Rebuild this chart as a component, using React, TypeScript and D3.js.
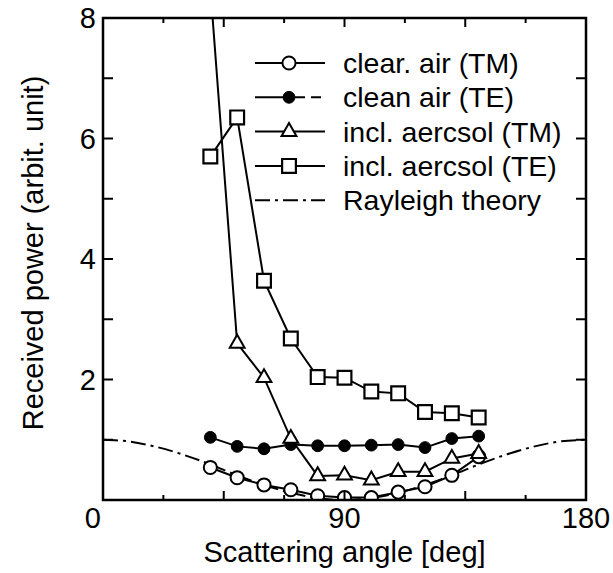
import React from "react";
import * as d3 from "d3";

// chart size and plot frame
const W = 613;
const H = 573;
const margin = { top: 18, right: 27, bottom: 73, left: 103 };
const FONT = "'Liberation Sans', Arial, Helvetica, sans-serif";

// data
const angles = [40, 50, 60, 70, 80, 90, 100, 110, 120, 130, 140];
const clearAirTM = [0.54, 0.37, 0.25, 0.17, 0.07, 0.04, 0.04, 0.13, 0.22, 0.41, 0.72];
const cleanAirTE = [1.04, 0.89, 0.85, 0.92, 0.9, 0.9, 0.91, 0.92, 0.87, 1.02, 1.06];
const aerosolTM = [8.5, 2.6, 2.03, 1.02, 0.4, 0.41, 0.33, 0.47, 0.47, 0.69, 0.77];
const aerosolTE = [5.7, 6.35, 3.64, 2.68, 2.04, 2.03, 1.8, 1.77, 1.46, 1.44, 1.37];

const rayleighAngles = [0, 10, 20, 30, 40, 50, 60, 70, 80, 90, 100, 110, 120, 130, 140, 150, 160, 170, 180];
const rayleighValues = [1.0, 0.97, 0.88, 0.75, 0.59, 0.41, 0.25, 0.12, 0.03, 0.0, 0.03, 0.12, 0.25, 0.41, 0.59, 0.75, 0.88, 0.97, 1.0];

const xLabels = [90, 180];
const yLabels = [2, 4, 6, 8];
const legendLabels = [
  "clear. air (TM)",
  "clean air (TE)",
  "incl. aercsol (TM)",
  "incl. aercsol (TE)",
  "Rayleigh theory",
];

const x = d3.scaleLinear().domain([0, 180]).range([margin.left, W - margin.right]);
const y = d3.scaleLinear().domain([0, 8]).range([H - margin.bottom, margin.top]);

const line = d3
  .line<[number, number]>()
  .x((d) => x(d[0]))
  .y((d) => y(d[1]));

const curve = d3
  .line<[number, number]>()
  .x((d) => x(d[0]))
  .y((d) => y(d[1]))
  .curve(d3.curveMonotoneX);

const circlePath = d3.symbol(d3.symbolCircle, 135)();
const dotPath = d3.symbol(d3.symbolCircle, 110)();
const trianglePath = d3.symbol(d3.symbolTriangle, 95)();
const squarePath = d3.symbol(d3.symbolSquare, 190)();

const DASHDOT = "15,5,3,5";

function Marker({ kind, cx, cy }: { kind: string; cx: number; cy: number }) {
  const t = `translate(${cx},${cy})`;
  if (kind === "circle")
    return <path d={circlePath!} transform={t} fill="#fff" stroke="#000" strokeWidth={2} />;
  if (kind === "dot")
    return <path d={dotPath!} transform={t} fill="#000" stroke="#000" strokeWidth={1} />;
  if (kind === "triangle")
    return <path d={trianglePath!} transform={t} fill="#fff" stroke="#000" strokeWidth={2} />;
  return <path d={squarePath!} transform={t} fill="#fff" stroke="#000" strokeWidth={2.2} />;
}

export default function App() {
  const series = [
    { values: clearAirTM, kind: "circle" },
    { values: cleanAirTE, kind: "dot" },
    { values: aerosolTM, kind: "triangle" },
    { values: aerosolTE, kind: "square" },
  ];

  const [x0, x1] = x.range();
  const [y0, y1] = y.range();
  const xTicks = d3.range(22.5, 180, 22.5);
  const yTicks = d3.range(1, 8);

  const legendX = 255;
  const legendY = 63;
  const legendStep = 34.3;

  return (
    <svg
      width={W}
      height={H}
      style={{ position: "absolute", left: 0, top: 0, background: "#fff" }}
      fontFamily={FONT}
    >
      <defs>
        <clipPath id="plot">
          <rect x={x0} y={y1} width={x1 - x0} height={y0 - y1} />
        </clipPath>
      </defs>

      {/* Rayleigh theory curve */}
      <path
        d={curve(rayleighAngles.map((a, i) => [a, rayleighValues[i]]))!}
        fill="none"
        stroke="#000"
        strokeWidth={2}
        strokeDasharray={DASHDOT}
        clipPath="url(#plot)"
      />

      {/* measured series */}
      <g clipPath="url(#plot)">
        {series.map((s, i) => (
          <path
            key={"l" + i}
            d={line(angles.map((a, j) => [a, s.values[j]]))!}
            fill="none"
            stroke="#000"
            strokeWidth={2}
          />
        ))}
        {series.map((s, i) =>
          s.values.map((v, j) => <Marker key={`m${i}-${j}`} kind={s.kind} cx={x(angles[j])} cy={y(v)} />)
        )}
      </g>

      {/* frame and ticks */}
      <rect x={x0} y={y1} width={x1 - x0} height={y0 - y1} fill="none" stroke="#000" strokeWidth={2.5} />
      {xTicks.map((t) => {
        const len = t % 45 === 0 ? 9 : 5;
        return (
          <g key={"xt" + t} stroke="#000" strokeWidth={2}>
            <line x1={x(t)} x2={x(t)} y1={y0} y2={y0 - len} />
            <line x1={x(t)} x2={x(t)} y1={y1} y2={y1 + len} />
          </g>
        );
      })}
      {yTicks.map((t) => (
        <g key={"yt" + t} stroke="#000" strokeWidth={2}>
          <line x1={x0} x2={x0 + 10} y1={y(t)} y2={y(t)} />
          <line x1={x1} x2={x1 - 10} y1={y(t)} y2={y(t)} />
        </g>
      ))}

      {/* tick labels */}
      <g fontSize={29} fill="#000">
        {xLabels.map((t) => (
          <text key={"xl" + t} x={x(t)} y={y0 + 18} textAnchor="middle" dominantBaseline="central">
            {t}
          </text>
        ))}
        <text x={x0 - 2} y={y0 + 18} textAnchor="end" dominantBaseline="central">
          0
        </text>
        {yLabels.map((t) => (
          <text key={"yl" + t} x={x0 - 7} y={y(t)} textAnchor="end" dominantBaseline="central">
            {t}
          </text>
        ))}
      </g>

      {/* axis titles */}
      <text x={x(90)} y={552} fontSize={29} textAnchor="middle" dominantBaseline="central">
        Scattering angle [deg]
      </text>
      <text
        transform={`translate(33,253) rotate(-90)`}
        fontSize={29}
        textAnchor="middle"
        dominantBaseline="central"
      >
        Received power (arbit. unit)
      </text>

      {/* legend */}
      <g>
        {legendLabels.map((label, i) => {
          const ly = legendY + i * legendStep;
          const mx = legendX + 34;
          let sample;
          if (i === 4) {
            sample = (
              <line x1={legendX} x2={legendX + 70} y1={ly} y2={ly} stroke="#000" strokeWidth={2} strokeDasharray={DASHDOT} />
            );
          } else if (i === 1) {
            sample = (
              <g>
                <line x1={legendX} x2={mx} y1={ly} y2={ly} stroke="#000" strokeWidth={2} />
                <line x1={mx} x2={legendX + 70} y1={ly} y2={ly} stroke="#000" strokeWidth={2} strokeDasharray="10,6" strokeDashoffset={-6} />
                <Marker kind="dot" cx={mx} cy={ly} />
              </g>
            );
          } else {
            sample = (
              <g>
                <line x1={legendX} x2={legendX + 70} y1={ly} y2={ly} stroke="#000" strokeWidth={2} />
                <Marker kind={series[i].kind} cx={mx} cy={ly} />
              </g>
            );
          }
          return (
            <g key={"lg" + i}>
              {sample}
              <text x={343} y={ly} fontSize={28.5} dominantBaseline="central">
                {label}
              </text>
            </g>
          );
        })}
      </g>
    </svg>
  );
}
